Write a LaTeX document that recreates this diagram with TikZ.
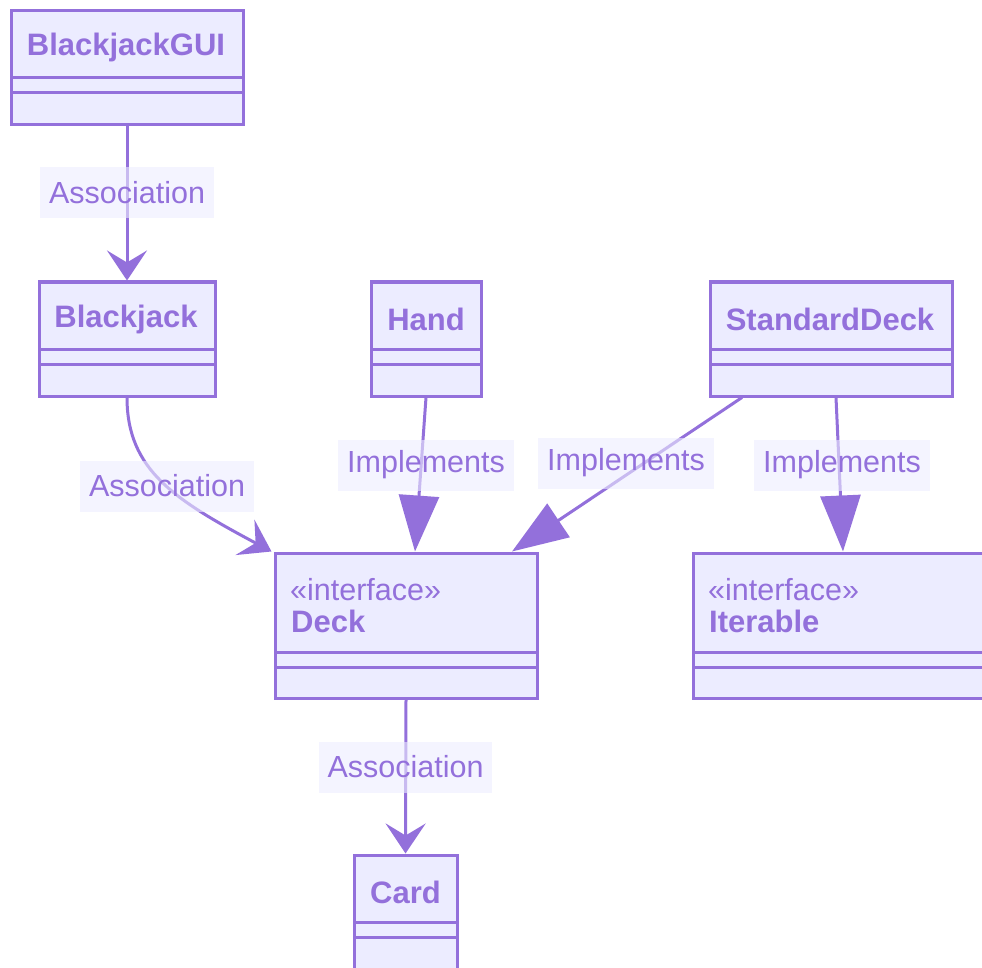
\documentclass[tikz,border=0pt]{standalone}
\usepackage{fontspec}
\setmainfont{Liberation Sans}
\usetikzlibrary{arrows.meta}
\definecolor{umlline}{RGB}{147,112,219}
\definecolor{umlfill}{RGB}{236,236,255}
\tikzset{
  x=1pt, y=-1pt,
  classbox/.style={draw=umlline, fill=umlfill, line width=3pt, inner sep=0pt},
  divider/.style={draw=umlline, line width=3pt},
  titletext/.style={text=umlline, font=\fontsize{31}{36}\selectfont\bfseries, inner sep=0pt},
  stereo/.style={text=umlline, font=\fontsize{30.5}{36}\selectfont, inner sep=0pt, anchor=west},
  edgelabel/.style={fill=umlfill, fill opacity=0.6, text opacity=1, text=umlline,
    font=\fontsize{30.5}{36}\selectfont, inner xsep=9pt, inner ysep=0pt, minimum height=51pt},
  assoc/.style={draw=umlline, line width=3pt,
    -{Stealth[length=30pt, width=40pt, inset=12pt]}},
  impl/.style={draw=umlline, line width=3pt,
    -{Triangle[length=56pt, width=40pt]}},
}
\begin{document}
\begin{tikzpicture}
\useasboundingbox (0,0) rectangle (982,968);
\clip (0,0) rectangle (982,968);

% BlackjackGUI
\node[classbox, minimum width=232pt, minimum height=114pt] (gui) at (127,68) {};
\node[titletext] (guiT) at (126,47) {BlackjackGUI};
\draw[divider] (11,78) -- (243,78);
\draw[divider] (11,93) -- (243,93);

% Blackjack
\node[classbox, minimum width=176pt, minimum height=114pt] (bj) at (127,339) {};
\node[titletext] (bjT) at (126,319) {Blackjack};
\draw[divider] (39,349) -- (215,349);
\draw[divider] (39,364) -- (215,364);

% Hand
\node[classbox, minimum width=110pt, minimum height=114pt] (hand) at (426,339) {};
\node[titletext] (handT) at (426,319) {Hand};
\draw[divider] (371,349) -- (481,349);
\draw[divider] (371,364) -- (481,364);

% StandardDeck
\node[classbox, minimum width=242pt, minimum height=114pt] (sd) at (831,339) {};
\node[titletext] (sdT) at (830,319) {StandardDeck};
\draw[divider] (710,349) -- (952,349);
\draw[divider] (710,364) -- (952,364);

% Deck
\node[classbox, minimum width=262pt, minimum height=145pt] (deck) at (406,625.5) {};
\node[stereo] (deckS) at (290,590) {«interface»};
\node[titletext, anchor=west] (deckT) at (291,621) {Deck};
\draw[divider] (275,652) -- (537,652);
\draw[divider] (275,667) -- (537,667);

% Iterable
\node[classbox, minimum width=310pt, minimum height=145pt] (it) at (848,625.5) {};
\node[stereo] (itS) at (708,590) {«interface»};
\node[titletext, anchor=west] (itT) at (709,621) {Iterable};
\draw[divider] (693,652) -- (1010,652);
\draw[divider] (693,667) -- (1010,667);

% Card
\node[classbox, minimum width=103pt, minimum height=130pt] (card) at (405.5,920) {};
\node[titletext] (cardT) at (405.5,892) {Card};
\draw[divider] (354,922) -- (457,922);
\draw[divider] (354,937) -- (457,937);

% Connectors
\draw[assoc] (gui.south) -- (bj.north);
\draw[assoc] (bj.south) .. controls (127,470) and (175,500) .. ([xshift=-2pt]deck.north west);
\draw[impl] (hand.south) -- ([xshift=9pt]deck.north);
\draw[impl] ([xshift=-89pt]sd.south) -- ([xshift=106pt]deck.north);
\draw[impl] ([xshift=5pt]sd.south) -- ([xshift=-5pt]it.north);
\draw[assoc] (deck.south) -- (card.north);

% Labels
\node[edgelabel] (l1) at (127,193) {Association};
\node[edgelabel] (l2) at (167,486) {Association};
\node[edgelabel] (l3) at (426,465) {Implements};
\node[edgelabel] (l4) at (626,463) {Implements};
\node[edgelabel] (l5) at (842,465) {Implements};
\node[edgelabel] (l6) at (405.5,767) {Association};
\end{tikzpicture}
\end{document}
